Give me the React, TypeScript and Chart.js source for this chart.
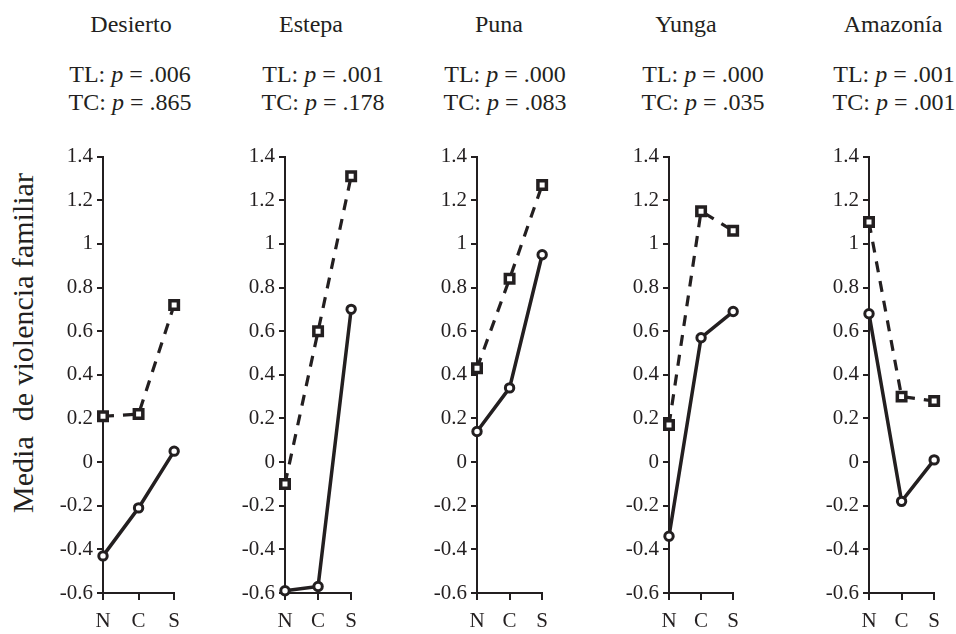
import React, { useEffect, useRef } from "react";
import { Chart, registerables } from "chart.js";
Chart.register(...registerables);

// ---------- data ----------
const categories = ["N", "C", "S"];
const regions = ["Desierto", "Estepa", "Puna", "Yunga", "Amazonía"];
const tlP = [".006", ".001", ".000", ".000", ".001"];
const tcP = [".865", ".178", ".083", ".035", ".001"];
const solidSeries = [
  [-0.43, -0.21, 0.05],
  [-0.59, -0.57, 0.7],
  [0.14, 0.34, 0.95],
  [-0.34, 0.57, 0.69],
  [0.68, -0.18, 0.01],
];
const dashedSeries = [
  [0.21, 0.22, 0.72],
  [-0.1, 0.6, 1.31],
  [0.43, 0.84, 1.27],
  [0.17, 1.15, 1.06],
  [1.1, 0.3, 0.28],
];
const yTicks = [-0.6, -0.4, -0.2, 0, 0.2, 0.4, 0.6, 0.8, 1, 1.2, 1.4];
const yAxisTitle = "Media  de violencia familiar";

// ---------- layout ----------
const INK = "#231f20";
const FONT = "Liberation Serif";
const CSS_FONT = "'Liberation Serif', 'Times New Roman', serif";
const axisX = [103, 285, 477, 669, 869];
const axisEndX = [175, 352, 543, 734, 935];
const titleX = [131, 311, 499, 686, 893];
const pX = [130, 323, 505, 703, 894];
const LEFT = 60;
const RIGHT = 14;
const TOP = 140;
const TOP_PAD = 14;
const XH = 40;
const CANVAS_H = 493;

function Panel({ idx }: { idx: number }) {
  const ref = useRef<HTMLCanvasElement | null>(null);
  const w = axisEndX[idx] - axisX[idx] + LEFT + RIGHT;
  useEffect(() => {
    if (!ref.current) return;
    let alive = true;
    const chart = new Chart(ref.current, {
      type: "line",
      data: {
        labels: categories,
        datasets: [
          {
            label: "TC",
            data: dashedSeries[idx],
            borderColor: INK,
            borderWidth: 3.2,
            borderDash: [11, 9],
            pointStyle: "rect",
            pointRadius: 6,
            pointBorderWidth: 3.5,
            pointBackgroundColor: "#ffffff",
            pointBorderColor: INK,
            tension: 0,
            clip: false,
          } as any,
          {
            label: "TL",
            data: solidSeries[idx],
            borderColor: INK,
            borderWidth: 3.5,
            pointStyle: "circle",
            pointRadius: 4.2,
            pointBorderWidth: 3,
            pointBackgroundColor: "#ffffff",
            pointBorderColor: INK,
            tension: 0,
            clip: false,
          } as any,
        ],
      },
      options: {
        responsive: false,
        animation: false,
        layout: { padding: { top: TOP_PAD, right: RIGHT, left: 0, bottom: 0 } },
        plugins: { legend: { display: false }, tooltip: { enabled: false } },
        scales: {
          x: {
            type: "category",
            offset: false,
            grid: {
              display: true,
              drawOnChartArea: false,
              drawTicks: true,
              tickLength: 7,
              color: INK,
              lineWidth: 2,
            },
            border: { display: true, color: INK, width: 2 },
            ticks: {
              color: INK,
              font: { family: FONT, size: 21 },
              padding: 9,
              maxRotation: 0,
            },
            afterFit: (s: any) => {
              s.height = XH;
            },
          },
          y: {
            type: "linear",
            min: -0.6,
            max: 1.4,
            afterBuildTicks: (s: any) => {
              s.ticks = yTicks.map((v) => ({ value: v }));
            },
            grid: {
              display: true,
              drawOnChartArea: false,
              drawTicks: true,
              tickLength: 6,
              color: INK,
              lineWidth: 2,
            },
            border: { display: true, color: INK, width: 2 },
            ticks: {
              color: INK,
              font: { family: FONT, size: 21 },
              padding: 4,
              callback: (v: any) => String(Number(Number(v).toFixed(1))),
            },
            afterFit: (s: any) => {
              s.width = LEFT;
            },
          },
        },
      } as any,
    });
    const fonts = (document as any).fonts;
    if (fonts && fonts.load) {
      fonts
        .load("21px 'Liberation Serif'")
        .then(() => {
          if (alive) chart.update();
        })
        .catch(() => {});
    }
    return () => {
      alive = false;
      chart.destroy();
    };
  }, [idx]);
  return (
    <canvas
      ref={ref}
      width={w}
      height={CANVAS_H}
      style={{
        position: "absolute",
        left: axisX[idx] - LEFT,
        top: TOP,
        width: w,
        height: CANVAS_H,
      }}
    />
  );
}

export default function App() {
  const textStyle: React.CSSProperties = {
    position: "absolute",
    fontFamily: CSS_FONT,
    fontSize: 24,
    lineHeight: "28px",
    color: INK,
    whiteSpace: "pre",
    transform: "translateX(-50%)",
  };
  return (
    <div
      style={{
        position: "absolute",
        left: 0,
        top: 0,
        width: 956,
        height: 634,
        background: "#ffffff",
        overflow: "hidden",
      }}
    >
      {regions.map((r, i) => (
        <React.Fragment key={r}>
          <div style={{ ...textStyle, left: titleX[i], top: 10 }}>{r}</div>
          <div style={{ ...textStyle, left: pX[i], top: 60 }}>
            {"TL: "}
            <i>p</i>
            {" = " + tlP[i]}
          </div>
          <div style={{ ...textStyle, left: pX[i], top: 88 }}>
            {"TC: "}
            <i>p</i>
            {" = " + tcP[i]}
          </div>
          <Panel idx={i} />
        </React.Fragment>
      ))}
      <div
        style={{
          position: "absolute",
          left: 23,
          top: 343,
          fontFamily: CSS_FONT,
          fontSize: 30,
          color: INK,
          whiteSpace: "pre",
          transform: "translate(-50%, -50%) rotate(-90deg)",
        }}
      >
        {yAxisTitle}
      </div>
    </div>
  );
}
